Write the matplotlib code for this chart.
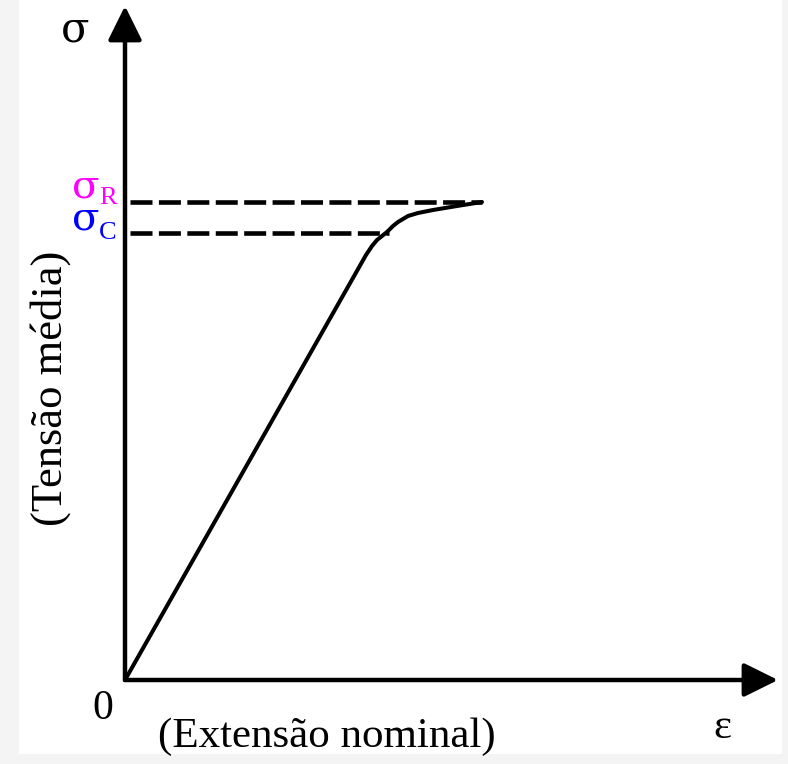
import matplotlib
matplotlib.use("Agg")
import matplotlib.pyplot as plt
from matplotlib.patches import Rectangle

# ---- data (arbitrary units: strain eps, stress sigma) ----
eps = [0.00, 2.41, 2.47, 2.52, 2.57, 2.62, 2.68, 2.73, 2.83, 2.93, 3.08, 3.32, 3.57]
sig = [0.00, 4.25, 4.34, 4.40, 4.44, 4.48, 4.54, 4.58, 4.64, 4.67, 4.70, 4.74, 4.78]
sigma_R = 4.78
sigma_C = 4.47
eps_C = 2.64
eps_R = 3.57

x_label = "(Extensão nominal)"
y_label = "(Tensão média)"

plt.rcParams['font.family'] = ['Liberation Serif', 'DejaVu Serif']

W, H = 788, 764
fig = plt.figure(figsize=(W / 100, H / 100), dpi=100)
fig.patch.set_facecolor('#f4f4f4')
fig.add_artist(Rectangle((19 / W, 10 / H), 763 / W, 754 / H,
                         transform=fig.transFigure, facecolor='white',
                         edgecolor='none', zorder=0))
ax = fig.add_axes([0, 0, 1, 1])
ax.patch.set_alpha(0)
ax.set_xlim(-1.25, 6.63)
ax.set_ylim(-0.84, 6.80)
ax.axis('off')

# axes arrows
arrow = dict(arrowstyle='-|>,head_length=1.05,head_width=0.52',
             mutation_scale=20, lw=3.2, color='black', shrinkA=0, shrinkB=0)
ax.annotate('', xy=(0, 6.74), xytext=(0, 0), arrowprops=arrow)
ax.annotate('', xy=(6.53, 0), xytext=(0, 0), arrowprops=arrow)

# curve
ax.plot(eps, sig, color='black', lw=2.9, solid_capstyle='round',
        solid_joinstyle='round', zorder=3)

# dashed reference lines
ax.hlines([sigma_R, sigma_C], [0.05, 0.05], [eps_R, eps_C], colors='black',
          lw=3.3, linestyles=[(0, (4.8, 1.4))], zorder=2)

greek = 'DejaVu Serif'
ax.text(-0.50, 6.51, 'σ', fontsize=30, family=greek, ha='center', va='center')
ax.text(-0.25, 4.83, 'σ', fontsize=29, family=greek, color='#ff00ff',
        ha='right', va='baseline')
ax.text(-0.26, 4.76, 'R', fontsize=19, color='#ff00ff',
        ha='left', va='baseline')
ax.text(-0.255, 4.50, 'σ', fontsize=29, family=greek, color='#0000ff',
        ha='right', va='baseline')
ax.text(-0.265, 4.41, 'C', fontsize=19, color='#0000ff',
        ha='left', va='baseline')

ax.text(-0.22, -0.29, '0', fontsize=30, ha='center', va='center')
ax.text(5.97, -0.48, 'ε', fontsize=31, ha='center', va='center')
ax.text(2.02, -0.57, x_label, fontsize=31, ha='center', va='center')
ax.text(-0.74, 2.92, y_label, fontsize=32, ha='center', va='center',
        rotation=90)

fig.savefig('out.png', dpi=100, facecolor=fig.get_facecolor())
